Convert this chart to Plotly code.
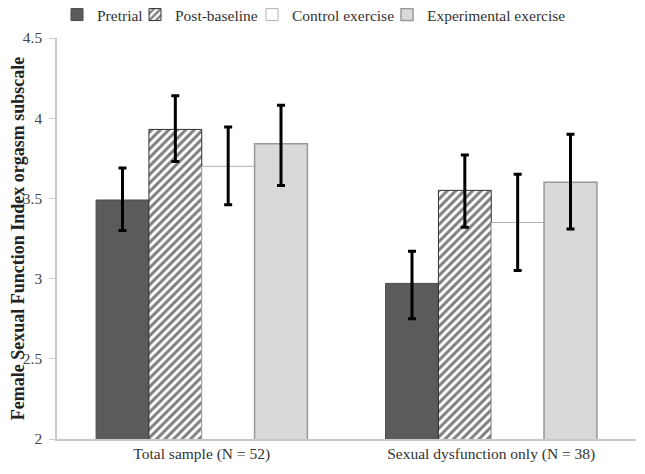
import plotly.graph_objects as go

categories = ["Total sample (N = 52)", "Sexual dysfunction only (N = 38)"]
series = ["Pretrial", "Post-baseline", "Control exercise", "Experimental exercise"]
pretrial = [3.49, 2.97]
pretrial_lo = [3.30, 2.75]
pretrial_hi = [3.69, 3.17]
post_baseline = [3.93, 3.55]
post_lo = [3.73, 3.32]
post_hi = [4.14, 3.77]
control = [3.70, 3.35]
control_lo = [3.46, 3.05]
control_hi = [3.945, 3.65]
experimental = [3.84, 3.60]
experimental_lo = [3.58, 3.31]
experimental_hi = [4.08, 3.90]
yticks = [2, 2.5, 3, 3.5, 4, 4.5]
ytick_labels = ["2", "2.5", "3", "3.5", "4", "4.5"]

styles = {
    "Pretrial": dict(color="#5b5b5b", line=dict(color="#4a4a4a", width=1)),
    "Post-baseline": dict(color="white", line=dict(color="#333333", width=1),
                          pattern=dict(shape="/", fgcolor="#000000", bgcolor="white", size=6, solidity=0.5)),
    "Control exercise": dict(color="white", line=dict(color="#b0b0b0", width=1)),
    "Experimental exercise": dict(color="#d9d9d9", line=dict(color="#999999", width=1.5)),
}
data = {
    "Pretrial": (pretrial, pretrial_lo, pretrial_hi),
    "Post-baseline": (post_baseline, post_lo, post_hi),
    "Control exercise": (control, control_lo, control_hi),
    "Experimental exercise": (experimental, experimental_lo, experimental_hi),
}
legend_ids = ["legend", "legend2", "legend3", "legend4"]
legend_left_px = [49, 127, 244, 379]

fig = go.Figure()
for s, lid in zip(series, legend_ids):
    vals, lo, hi = data[s]
    fig.add_trace(go.Bar(
        x=categories, y=vals, name=s, legend=lid,
        marker=styles[s],
        error_y=dict(type="data", symmetric=False,
                     array=[h - v for h, v in zip(hi, vals)],
                     arrayminus=[v - l for v, l in zip(vals, lo)],
                     color="black", thickness=3, width=4),
    ))

W, H = 645, 474
legend_common = dict(orientation="h", xref="container", yref="container", xanchor="left",
                     y=1 - 7 / H, yanchor="middle", font=dict(size=15.5, color="#333333"),
                     itemwidth=30, bgcolor="rgba(0,0,0,0)")
layout_legends = {}
for lid, px in zip(legend_ids, legend_left_px):
    layout_legends[lid] = dict(legend_common, x=px / W)

fig.update_layout(
    width=W, height=H,
    margin=dict(l=49, r=17, t=30, b=43, autoexpand=False),
    plot_bgcolor="white", paper_bgcolor="white",
    barmode="group", bargap=0.27, bargroupgap=0, showlegend=True,
    font=dict(family="Liberation Serif, Times New Roman, serif", size=15.5, color="#333333"),
    xaxis=dict(showline=True, linecolor="#c8c8c8", linewidth=1.5, ticks="",
               tickfont=dict(size=15.5, color="#333333")),
    yaxis=dict(range=[2, 4.5], tickvals=yticks, ticktext=ytick_labels,
               showline=True, linecolor="#c8c8c8", linewidth=1.5, ticks="outside",
               tickcolor="#c8c8c8", ticklen=6, showgrid=False, zeroline=False,
               ticklabelstandoff=4,
               tickfont=dict(size=15.5, color="#444444"),
               title=dict(text="<b>Female Sexual Function Index orgasm subscale</b>",
                          font=dict(size=18, color="#222222"), standoff=6)),
    **layout_legends,
)

fig.write_html("out.html")
